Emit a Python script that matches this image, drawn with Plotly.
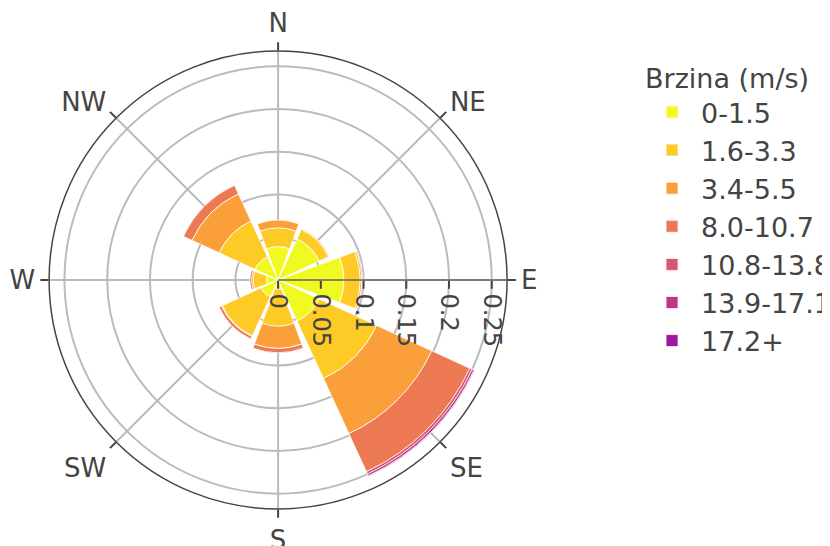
import plotly.graph_objects as go

directions = ["N", "NE", "E", "SE", "S", "SW", "W", "NW"]
speed_bins = ["0-1.5", "1.6-3.3", "3.4-5.5", "8.0-10.7", "10.8-13.8", "13.9-17.1", "17.2+"]
bin_colors = ["#f0f921", "#fdca26", "#fb9f3a", "#ed7953", "#d8576b", "#bd3786", "#9c179e"]

f_0_1_5 = [0.039, 0.053, 0.077, 0.053, 0.011, 0.022, 0.014, 0.030]
f_1_6_3_3 = [0.022, 0.012, 0.019, 0.074, 0.043, 0.050, 0.015, 0.046]
f_3_4_5_5 = [0.009, 0.001, 0.002, 0.071, 0.026, 0.001, 0.002, 0.035]
f_8_0_10_7 = [0.000, 0.000, 0.001, 0.049, 0.005, 0.003, 0.002, 0.011]
f_10_8_13_8 = [0.000, 0.000, 0.000, 0.003, 0.000, 0.000, 0.000, 0.000]
f_13_9_17_1 = [0.000, 0.000, 0.000, 0.0025, 0.000, 0.000, 0.000, 0.000]
f_17_2_plus = [0.000, 0.000, 0.000, 0.0008, 0.000, 0.000, 0.000, 0.000]

series = [f_0_1_5, f_1_6_3_3, f_3_4_5_5, f_8_0_10_7, f_10_8_13_8, f_13_9_17_1, f_17_2_plus]
radial_ticks = [0, 0.05, 0.1, 0.15, 0.2, 0.25]

fig = go.Figure()
for name, vals, col in zip(speed_bins, series, bin_colors):
    fig.add_trace(go.Barpolar(
        r=vals, theta=directions, name=name,
        marker=dict(color=col, line=dict(color="white", width=0.75)),
    ))

fig.update_layout(
    template="none",
    width=830, height=546,
    font=dict(family="DejaVu Sans, Verdana, sans-serif", size=26, color="#444"),
    margin=dict(l=31, r=0, t=43, b=45),
    paper_bgcolor="white",
    legend=dict(
        title=dict(text="Brzina (m/s)", font=dict(size=27)),
        x=0.756, xanchor="left", y=0.996, yanchor="top",
        font=dict(size=27),
        itemwidth=48,
    ),
    polar=dict(
        domain=dict(x=[0.0095, 0.589], y=[0, 1]),
        bgcolor="white",
        barmode="stack",
        bargap=0.1,
        radialaxis=dict(
            range=[0, 0.268], tickvals=radial_ticks, ticktext=[str(t) for t in radial_ticks],
            angle=0, tickangle=90, ticks="outside", ticklen=8, tickwidth=1.5,
            showline=True, linecolor="#666", linewidth=1.5,
            gridcolor="#bbbbbb", gridwidth=1.5,
            tickfont=dict(size=24),
        ),
        angularaxis=dict(
            categoryorder="array", categoryarray=directions,
            rotation=90, direction="clockwise",
            ticks="outside", ticklen=8, tickwidth=1.5,
            linecolor="#444", linewidth=1.5,
            gridcolor="#bbbbbb", gridwidth=1.5,
            tickfont=dict(size=26),
        ),
    ),
)

fig.write_html("out.html")
